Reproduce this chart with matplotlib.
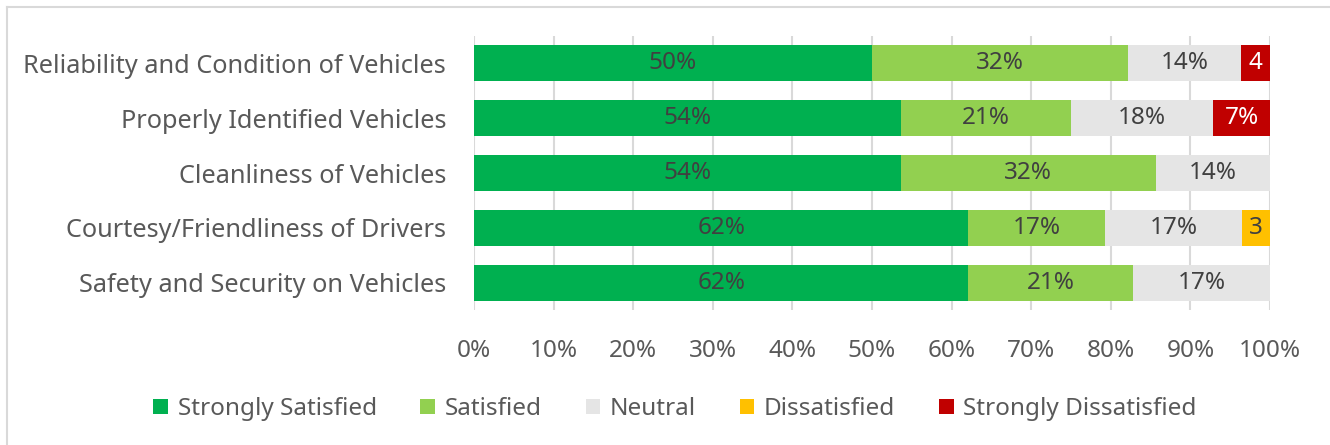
import numpy as np
import matplotlib.pyplot as plt
from matplotlib.lines import Line2D

plt.rcParams['font.family'] = ['Noto Sans', 'DejaVu Sans']

# data (percent of respondents), top row first
categories = ['Reliability and Condition of Vehicles',
              'Properly Identified Vehicles',
              'Cleanliness of Vehicles',
              'Courtesy/Friendliness of Drivers',
              'Safety and Security on Vehicles']
series = ['Strongly Satisfied', 'Satisfied', 'Neutral', 'Dissatisfied', 'Strongly Dissatisfied']
strongly_satisfied = [50.0, 53.6, 53.6, 62.1, 62.1]
satisfied = [32.1, 21.4, 32.1, 17.2, 20.7]
neutral = [14.3, 17.9, 14.3, 17.2, 17.2]
dissatisfied = [0, 0, 0, 3.5, 0]
strongly_dissatisfied = [3.6, 7.1, 0, 0, 0]

# labels shown on the bars (as printed in the chart)
lbl_ss = ['50%', '54%', '54%', '62%', '62%']
lbl_s = ['32%', '21%', '32%', '17%', '21%']
lbl_n = ['14%', '18%', '14%', '17%', '17%']
lbl_d = ['', '', '', '3', '']
lbl_sd = ['4', '7%', '', '', '']

colors = ['#00B050', '#92D050', '#E5E5E5', '#FFC000', '#C00000']
text_colors = ['#404040', '#404040', '#404040', '#404040', '#FFFFFF']
fs = 17.5

fig = plt.figure(figsize=(13.3, 4.45), dpi=100)
ax = fig.add_axes([474/1330, 1-310/445, 796/1330, 274/445])

y = np.arange(len(categories))
left = np.zeros(len(categories))
all_vals = [strongly_satisfied, satisfied, neutral, dissatisfied, strongly_dissatisfied]
all_lbls = [lbl_ss, lbl_s, lbl_n, lbl_d, lbl_sd]
for vals, lbls, name, c, tc in zip(all_vals, all_lbls, series, colors, text_colors):
    vals = np.array(vals)
    ax.barh(y, vals, left=left, height=0.66, color=c, label=name, zorder=2)
    for i, (v, l) in enumerate(zip(vals, lbls)):
        if v > 0 and l:
            ax.text(left[i] + v/2, y[i], l, ha='center', va='center',
                    fontsize=fs, color=tc, zorder=3)
    left += vals

ax.set_xlim(0, 100)
ax.set_ylim(len(categories) - 0.5, -0.5)
ax.set_yticks(y)
ax.set_yticklabels(categories)
ax.set_xticks(np.arange(0, 101, 10))
ax.set_xticklabels([f'{t}%' for t in range(0, 101, 10)])
ax.tick_params(axis='both', length=0, colors='#595959')
ax.tick_params(axis='x', pad=21, labelsize=fs)
ax.tick_params(axis='y', pad=20, labelsize=18.2)
ax.grid(axis='x', color='#D9D9D9', linewidth=1.5, zorder=0)
for s in ax.spines.values():
    s.set_visible(False)

fig.legend(loc='center', bbox_to_anchor=(0.5075, 1-409/445), ncol=5, frameon=False,
           fontsize=fs, handlelength=0.6, handleheight=0.6, handletextpad=0.4,
           columnspacing=1.8, labelcolor='#595959')

# outer chart border (top and left visible)
fig.add_artist(Line2D([7/1330, 1], [1-7/445, 1-7/445], color='#D9D9D9', lw=1.5))
fig.add_artist(Line2D([7/1330, 7/1330], [0, 1-7/445], color='#D9D9D9', lw=1.5))

fig.savefig('out.png', dpi=100)
